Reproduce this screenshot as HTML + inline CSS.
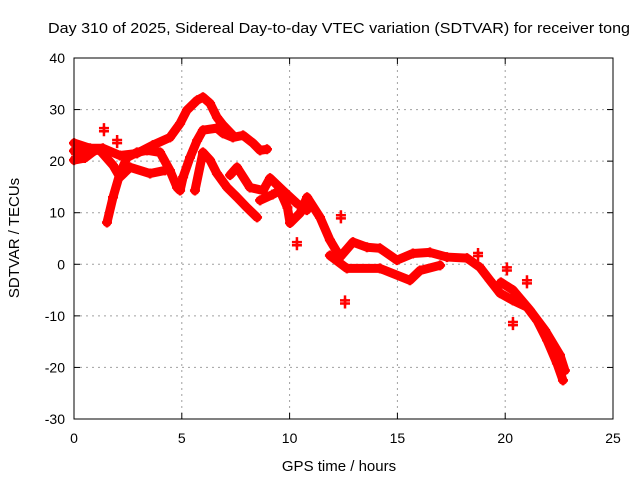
<!DOCTYPE html>
<html><head><meta charset="utf-8"><style>
body{margin:0;background:#fff}
svg{display:block;font-family:"Liberation Sans",sans-serif}
</style></head><body>
<svg id="chart" width="640" height="480" viewBox="0 0 640 480">
<text x="48" y="33" font-size="15" textLength="582" lengthAdjust="spacingAndGlyphs">Day 310 of 2025, Sidereal Day-to-day VTEC variation (SDTVAR) for receiver tong</text>
<text transform="translate(19,238) rotate(-90)" font-size="15" text-anchor="middle">SDTVAR / TECUs</text>
<text x="339" y="471" font-size="15" text-anchor="middle">GPS time / hours</text>
<g id="grid"></g>
<g id="ticks"></g>
<g id="marks"></g>
<rect x="74" y="58" width="539" height="361" fill="none" stroke="#000" stroke-width="1"/>
</svg>
<script>
const xTicks=[0,5,10,15,20,25];
const yTicks=[-30,-20,-10,0,10,20,30,40];
const trackUpper=[[0,23.5],[0.74,22.5],[1.34,22.5],[2.13,21.1],[2.92,21.5],[3.66,23.1],[4.45,24.6],[4.92,27.3],[5.24,29.9],[5.71,31.8],[5.98,32.4],[6.31,31.2],[6.63,28.5],[6.91,27.0],[7.37,25.0]];
const trackLow=[[1.53,8.1],[1.81,13],[2.13,17.6],[2.46,20.7],[2.92,21.7],[3.39,22.1],[3.99,21.7],[4.45,18.2],[4.78,14.9],[4.92,14.3],[5.06,16.9],[5.38,20.7],[5.71,24],[5.98,26],[6.63,26.4],[6.91,25.4],[7.37,24.6],[7.84,25],[8.3,23.5],[8.63,22.1],[8.95,22.3]];
const trackCross=[[0,22],[1.2,22.1],[1.81,19.2],[2.13,16.9],[2.6,18.8],[3.53,17.6],[4.22,18.2]];
const trackLeft=[[0,20.2],[0.5,20.6],[0.97,22.1]];
const trackD=[[5.61,14.3],[5.98,21.7],[6.31,20.2],[6.63,17.6],[7.1,14.9],[7.56,13],[8.02,11],[8.49,9.1]];
const trackE=[[7.24,17.3],[7.56,18.8],[8.16,14.9],[8.77,14.3],[9.09,16.7],[9.69,14.3],[10.34,11.8],[10.8,10.5]];
const trackMain=[[8.63,12.4],[9.2,13.5],[9.55,14.3],[9.9,11],[10.02,8],[10.48,9.9],[10.81,13],[11.41,9.1],[11.87,4.7],[12.34,1.4],[12.94,4.3],[13.59,3.3],[14.19,3.1],[14.98,0.8],[15.72,2.1],[16.51,2.3],[17.3,1.4],[18.23,1.2],[18.83,-0.6],[19.29,-3.1],[19.76,-5.6],[20.36,-7],[21.01,-8.3],[21.48,-10.9],[21.94,-14.7],[22.4,-19.2],[22.68,-22.5]];
const trackRight=[[19.8,-3.5],[20.36,-5],[21.15,-8.9],[21.85,-12.8],[22.54,-17.6],[22.77,-20.6]];
const trackBranch=[[11.87,1.7],[12.66,-0.8],[14.19,-0.8],[15.58,-3.1],[16.05,-1.2],[16.98,-0.2]];
const outliers=[[12.38,8.9],[12.57,-7.6],[10.34,3.7],[21.01,-3.7],[20.36,-11.8],[20.08,-1.2],[1.39,25.8],[18.74,1.6],[0.1,20.8],[2,23.5]];
const tracks=[trackUpper,trackLow,trackCross,trackLeft,trackD,trackE,trackMain,trackRight,trackBranch];

const X0=74,X1=613,Y0=419,Y1=58;
const xs=t=>X0+(t-0)/25*(X1-X0);
const ys=v=>Y0-(v+30)/70*(Y0-Y1);
const NS="http://www.w3.org/2000/svg";
const grid=document.getElementById('grid'),ticks=document.getElementById('ticks'),marks=document.getElementById('marks');
function mk(tag,attrs,parent){const e=document.createElementNS(NS,tag);for(const k in attrs)e.setAttribute(k,attrs[k]);parent.appendChild(e);return e;}
xTicks.forEach(t=>{
  const x=xs(t);
  if(t>0&&t<25){const g=mk('line',{x1:x,x2:x,y1:Y1,y2:Y0,stroke:'#a0a0a0','stroke-dasharray':'2,4'},grid);
  
  }
  mk('line',{x1:x,x2:x,y1:Y0,y2:Y0-6,stroke:'#000'},ticks);
  mk('line',{x1:x,x2:x,y1:Y1,y2:Y1+6,stroke:'#000'},ticks);
  const l=mk('text',{x:x,y:Y0+24,'font-size':14,'text-anchor':'middle'},ticks);
  l.textContent=t;
  
  
});
yTicks.forEach(v=>{
  const y=ys(v);
  if(v>-30&&v<40){const g=mk('line',{x1:X0,x2:X1,y1:y,y2:y,stroke:'#a0a0a0','stroke-dasharray':'2,4'},grid);
  
  }
  mk('line',{x1:X0,x2:X0+6,y1:y,y2:y,stroke:'#000'},ticks);
  mk('line',{x1:X1,x2:X1-6,y1:y,y2:y,stroke:'#000'},ticks);
  const l=mk('text',{x:X0-9,y:y+5,'font-size':14,'text-anchor':'end'},ticks);
  l.textContent=v;
  
  
});
function plus(t,v,name){
  const x=xs(t),y=ys(v);
  const p=mk('path',{d:`M${x-5},${y}H${x+5}M${x},${y-5}V${y+5}`,stroke:'#f00','stroke-width':2.5},marks);
  
  
}
tracks.forEach((tr,i)=>{
  const pl=mk('polyline',{points:tr.map(p=>xs(p[0])+','+ys(p[1])).join(' '),fill:'none',stroke:'#f00','stroke-width':9,'stroke-linejoin':'round','stroke-linecap':'round'},marks);
  
  
  tr.forEach(p=>plus(p[0],p[1],'track-point'));
});
outliers.forEach(p=>{plus(p[0],p[1],'outlier-point');plus(p[0],p[1]+0.6,'outlier-point');});
</script>
</body></html>
